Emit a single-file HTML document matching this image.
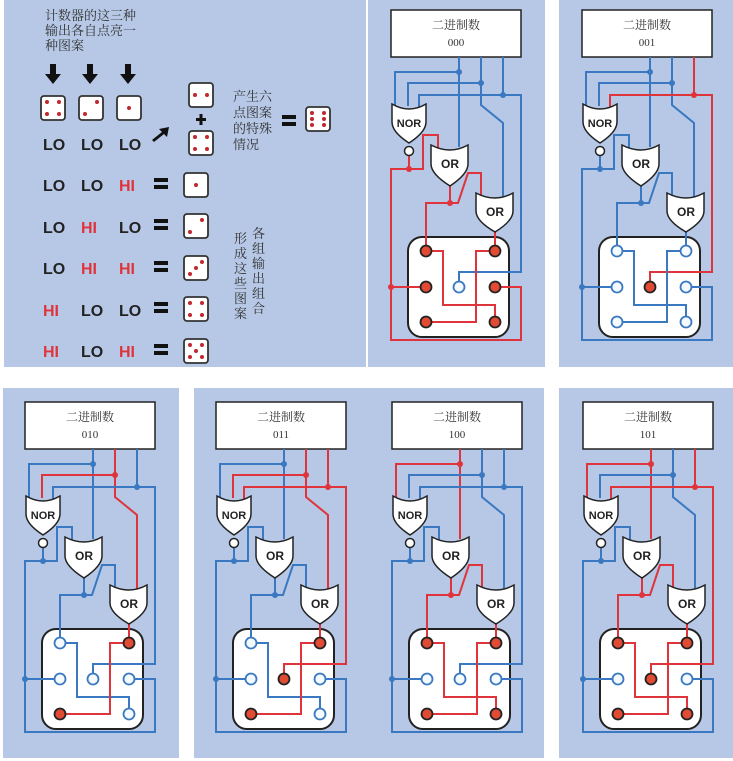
<!DOCTYPE html>
<html><head><meta charset="utf-8"><style>
html,body{margin:0;padding:0;background:#fff;width:733px;height:761px;overflow:hidden}
svg{display:block}
.cj{font-family:"Liberation Serif","Noto Serif CJK SC","Noto Sans CJK SC",serif;fill:#333}
.lo{font-family:"Liberation Sans",sans-serif;font-weight:bold;font-size:16px;fill:#222}
.hi{font-family:"Liberation Sans",sans-serif;font-weight:bold;font-size:16px;fill:#e0343c}
.g{font-family:"Liberation Sans",sans-serif;font-weight:bold;fill:#222;text-anchor:middle}
</style></head><body>
<svg width="733" height="761" viewBox="0 0 733 761" xmlns="http://www.w3.org/2000/svg">
<defs>
<g id="c">
<rect x="23" y="10" width="130" height="47" fill="#fff" stroke="#222" stroke-width="1.5"/>
<rect x="40" y="237" width="101" height="100" rx="14" fill="#fff" stroke="#222" stroke-width="2"/>
<g fill="none" stroke-width="2">
<path d="M91 57V147 M91 72H27V108" style="stroke:var(--A)"/>
<path d="M113 57V105L135 123V198 M113 83H40V106" style="stroke:var(--B)"/>
<path d="M135 57V95H51V108 M135 95H153V272H91V282" style="stroke:var(--C)"/>
<path d="M41 156V169H23V340H153V287H127 M23 287H58 M41 169H55V135H70V149" style="stroke:var(--N)"/>
<path d="M82 186V203H58V251 M82 203H90L100 173H113V198 M58 251H75V305H127V322" style="stroke:var(--O)"/>
<path d="M127 232V251H108V322H58" style="stroke:var(--P)"/>
</g>
<circle cx="91" cy="72" r="3" style="fill:var(--A)"/>
<circle cx="113" cy="83" r="3" style="fill:var(--B)"/>
<circle cx="135" cy="95" r="3" style="fill:var(--C)"/>
<circle cx="41" cy="169" r="3" style="fill:var(--N)"/>
<circle cx="23" cy="287" r="3" style="fill:var(--N)"/>
<circle cx="82" cy="203" r="3" style="fill:var(--O)"/>
<g stroke="#222" stroke-width="1.5" fill="#fff">
<path d="M24 104Q41 114 58 104V122Q58 132 41 143Q24 132 24 122Z"/>
<path d="M63 145Q82 155 100 145V164Q100 174 82 186Q63 174 63 164Z"/>
<path d="M108 193Q127 203 145 193V211Q145 221 127 232Q108 221 108 211Z"/>
<circle cx="41" cy="151" r="4.5"/>
</g>
<g stroke-width="1.8">
<circle cx="58" cy="251" r="5.5" style="fill:var(--Of);stroke:var(--Os)"/>
<circle cx="127" cy="322" r="5.5" style="fill:var(--Of);stroke:var(--Os)"/>
<circle cx="127" cy="251" r="5.5" style="fill:var(--Pf);stroke:var(--Ps)"/>
<circle cx="58" cy="322" r="5.5" style="fill:var(--Pf);stroke:var(--Ps)"/>
<circle cx="58" cy="287" r="5.5" style="fill:var(--Nf);stroke:var(--Ns)"/>
<circle cx="127" cy="287" r="5.5" style="fill:var(--Nf);stroke:var(--Ns)"/>
<circle cx="91" cy="287" r="5.5" style="fill:var(--Cf);stroke:var(--Cs)"/>
</g>
</g>
<g id="die"><rect x="0" y="0" width="24" height="24" rx="3" fill="#fff" stroke="#333" stroke-width="1.8"/></g>
</defs>

<g fill="#b6c8e6">
<rect x="4" y="0" width="362" height="367"/>
<rect x="368" y="0" width="177" height="367"/>
<rect x="559" y="0" width="174" height="367"/>
<rect x="3" y="388" width="176" height="370"/>
<rect x="194" y="388" width="350" height="370"/>
<rect x="559" y="388" width="174" height="370"/>
</g>

<g class="cj" font-size="13">
<text x="45" y="20">计数器的这三种</text>
<text x="45" y="35">输出各自点亮一</text>
<text x="45" y="50">种图案</text>
<text x="233" y="101">产生六</text>
<text x="233" y="117">点图案</text>
<text x="233" y="133">的特殊</text>
<text x="233" y="149">情况</text>
</g>
<g class="cj" font-size="13">
<text x="252" y="238">各</text><text x="252" y="253">组</text><text x="252" y="268">输</text><text x="252" y="283">出</text><text x="252" y="298">组</text><text x="252" y="313">合</text>
<text x="234" y="243">形</text><text x="234" y="258">成</text><text x="234" y="273">这</text><text x="234" y="288">些</text><text x="234" y="303">图</text><text x="234" y="318">案</text>
</g>
<g fill="#111">
<path d="M50 64h6v10h5l-8 10l-8-10h5z"/>
<path d="M87 64h6v10h5l-8 10l-8-10h5z"/>
<path d="M125 64h6v10h5l-8 10l-8-10h5z"/>
<path d="M152 140l10-8l-3-3l10-2l-2 10l-3-3l-10 8z"/>
<rect x="196" y="118" width="10" height="3"/><rect x="199.5" y="114" width="3" height="11"/>
<rect x="282" y="115" width="14" height="4"/><rect x="282" y="122" width="14" height="4"/>
<rect x="154" y="178" width="14" height="4"/><rect x="154" y="185" width="14" height="4"/>
<rect x="154" y="219" width="14" height="4"/><rect x="154" y="226" width="14" height="4"/>
<rect x="154" y="261" width="14" height="4"/><rect x="154" y="268" width="14" height="4"/>
<rect x="154" y="302" width="14" height="4"/><rect x="154" y="309" width="14" height="4"/>
<rect x="154" y="344" width="14" height="4"/><rect x="154" y="351" width="14" height="4"/>
</g>
<g fill="#c0282e">
<use href="#die" x="41" y="96"/><circle cx="47" cy="102" r="2"/><circle cx="59" cy="102" r="2"/><circle cx="47" cy="114" r="2"/><circle cx="59" cy="114" r="2"/>
<use href="#die" x="79" y="96"/><circle cx="97" cy="102" r="2"/><circle cx="85" cy="114" r="2"/>
<use href="#die" x="117" y="96"/><circle cx="129" cy="108" r="2"/>
<use href="#die" x="189" y="83"/><circle cx="195" cy="95" r="2"/><circle cx="207" cy="95" r="2"/>
<use href="#die" x="189" y="131"/><circle cx="195" cy="137" r="2"/><circle cx="207" cy="137" r="2"/><circle cx="195" cy="149" r="2"/><circle cx="207" cy="149" r="2"/>
<use href="#die" x="306" y="107"/><circle cx="312" cy="113" r="2"/><circle cx="324" cy="113" r="2"/><circle cx="312" cy="119" r="2"/><circle cx="324" cy="119" r="2"/><circle cx="312" cy="125" r="2"/><circle cx="324" cy="125" r="2"/>
<use href="#die" x="184" y="173"/><circle cx="196" cy="185" r="2"/>
<use href="#die" x="184" y="214"/><circle cx="202" cy="220" r="2"/><circle cx="190" cy="232" r="2"/>
<use href="#die" x="184" y="256"/><circle cx="202" cy="262" r="2"/><circle cx="196" cy="268" r="2"/><circle cx="190" cy="274" r="2"/>
<use href="#die" x="184" y="297"/><circle cx="190" cy="303" r="2"/><circle cx="202" cy="303" r="2"/><circle cx="190" cy="315" r="2"/><circle cx="202" cy="315" r="2"/>
<use href="#die" x="184" y="339"/><circle cx="190" cy="345" r="2"/><circle cx="202" cy="345" r="2"/><circle cx="196" cy="351" r="2"/><circle cx="190" cy="357" r="2"/><circle cx="202" cy="357" r="2"/>
</g>
<g>
<text class="lo" x="43" y="150">LO</text><text class="lo" x="81" y="150">LO</text><text class="lo" x="119" y="150">LO</text>
<text class="lo" x="43" y="191">LO</text><text class="lo" x="81" y="191">LO</text><text class="hi" x="119" y="191">HI</text>
<text class="lo" x="43" y="233">LO</text><text class="hi" x="81" y="233">HI</text><text class="lo" x="119" y="233">LO</text>
<text class="lo" x="43" y="274">LO</text><text class="hi" x="81" y="274">HI</text><text class="hi" x="119" y="274">HI</text>
<text class="hi" x="43" y="316">HI</text><text class="lo" x="81" y="316">LO</text><text class="lo" x="119" y="316">LO</text>
<text class="hi" x="43" y="357">HI</text><text class="lo" x="81" y="357">LO</text><text class="hi" x="119" y="357">HI</text>
</g>

<g style="--A:#3a79c1;--B:#3a79c1;--C:#3a79c1;--N:#e0343c;--O:#e0343c;--P:#e0343c;--Cf:#f4fafd;--Cs:#3a79c1;--Nf:#e14a33;--Ns:#222;--Of:#e14a33;--Os:#222;--Pf:#e14a33;--Ps:#222">
<use href="#c" x="368" y="0"/></g>
<g style="--A:#3a79c1;--B:#3a79c1;--C:#e0343c;--N:#3a79c1;--O:#3a79c1;--P:#3a79c1;--Cf:#e14a33;--Cs:#222;--Nf:#f4fafd;--Ns:#3a79c1;--Of:#f4fafd;--Os:#3a79c1;--Pf:#f4fafd;--Ps:#3a79c1">
<use href="#c" x="559" y="0"/></g>
<g style="--A:#3a79c1;--B:#e0343c;--C:#3a79c1;--N:#3a79c1;--O:#3a79c1;--P:#e0343c;--Cf:#f4fafd;--Cs:#3a79c1;--Nf:#f4fafd;--Ns:#3a79c1;--Of:#f4fafd;--Os:#3a79c1;--Pf:#e14a33;--Ps:#222">
<use href="#c" x="2" y="392"/></g>
<g style="--A:#3a79c1;--B:#e0343c;--C:#e0343c;--N:#3a79c1;--O:#3a79c1;--P:#e0343c;--Cf:#e14a33;--Cs:#222;--Nf:#f4fafd;--Ns:#3a79c1;--Of:#f4fafd;--Os:#3a79c1;--Pf:#e14a33;--Ps:#222">
<use href="#c" x="193" y="392"/></g>
<g style="--A:#e0343c;--B:#3a79c1;--C:#3a79c1;--N:#3a79c1;--O:#e0343c;--P:#e0343c;--Cf:#f4fafd;--Cs:#3a79c1;--Nf:#f4fafd;--Ns:#3a79c1;--Of:#e14a33;--Os:#222;--Pf:#e14a33;--Ps:#222">
<use href="#c" x="369" y="392"/></g>
<g style="--A:#e0343c;--B:#3a79c1;--C:#e0343c;--N:#3a79c1;--O:#e0343c;--P:#e0343c;--Cf:#e14a33;--Cs:#222;--Nf:#f4fafd;--Ns:#3a79c1;--Of:#e14a33;--Os:#222;--Pf:#e14a33;--Ps:#222">
<use href="#c" x="560" y="392"/></g>

<g class="cj" text-anchor="middle">
<text x="456" y="29" font-size="12">二进制数</text><text x="456" y="46" font-size="11">000</text>
<text x="647" y="29" font-size="12">二进制数</text><text x="647" y="46" font-size="11">001</text>
<text x="90" y="421" font-size="12">二进制数</text><text x="90" y="438" font-size="11">010</text>
<text x="281" y="421" font-size="12">二进制数</text><text x="281" y="438" font-size="11">011</text>
<text x="457" y="421" font-size="12">二进制数</text><text x="457" y="438" font-size="11">100</text>
<text x="648" y="421" font-size="12">二进制数</text><text x="648" y="438" font-size="11">101</text>
</g>
<g class="g">
<text x="409" y="127" font-size="11">NOR</text><text x="450" y="168" font-size="12">OR</text><text x="495" y="216" font-size="12">OR</text>
<text x="600" y="127" font-size="11">NOR</text><text x="641" y="168" font-size="12">OR</text><text x="686" y="216" font-size="12">OR</text>
<text x="43" y="519" font-size="11">NOR</text><text x="84" y="560" font-size="12">OR</text><text x="129" y="608" font-size="12">OR</text>
<text x="234" y="519" font-size="11">NOR</text><text x="275" y="560" font-size="12">OR</text><text x="320" y="608" font-size="12">OR</text>
<text x="410" y="519" font-size="11">NOR</text><text x="451" y="560" font-size="12">OR</text><text x="496" y="608" font-size="12">OR</text>
<text x="601" y="519" font-size="11">NOR</text><text x="642" y="560" font-size="12">OR</text><text x="687" y="608" font-size="12">OR</text>
</g>
</svg>
</body></html>
